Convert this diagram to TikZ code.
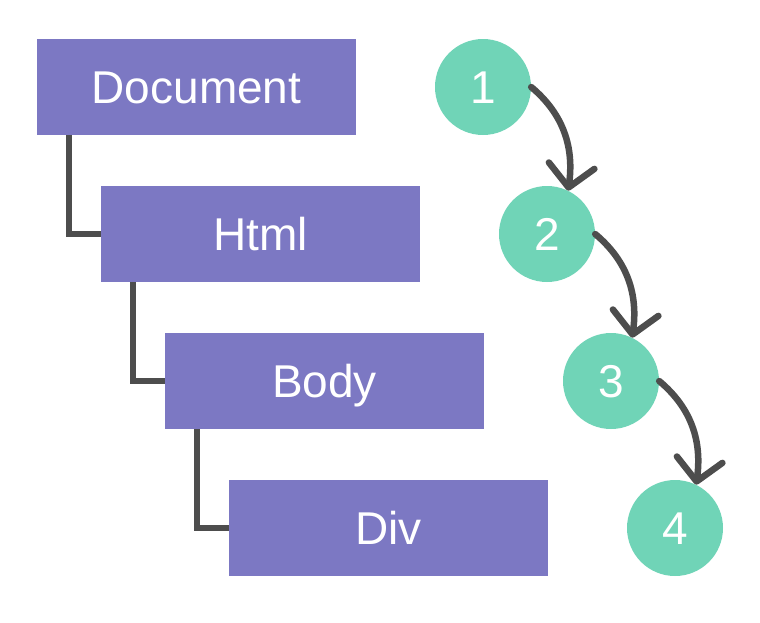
\documentclass[tikz,border=0pt]{standalone}
\usepackage{fontspec}
\setmainfont{Liberation Sans}
\usetikzlibrary{arrows.meta}
\definecolor{boxpurple}{HTML}{7C78C3}
\definecolor{stepgreen}{HTML}{70D4B7}
\definecolor{linegray}{HTML}{4D4D4D}
\begin{document}
\begin{tikzpicture}[x=1pt,y=1pt,
  label font/.style={font=\fontsize{46}{52}\selectfont, text=white,
    text height=33pt, text depth=0pt},
  treebox/.style={rectangle, fill=boxpurple, minimum width=319pt,
    minimum height=96pt, inner sep=0pt, label font},
  stepnode/.style={circle, fill=stepgreen, minimum size=96pt,
    inner sep=0pt, label font},
  treeline/.style={draw=linegray, line width=6pt},
  steparrow/.style={draw=linegray, line width=6.5pt, line cap=round,
    -{Straight Barb[length=22pt, width=46pt, line cap=round, line join=round]}}
]
\useasboundingbox (0,0) rectangle (760,-622);

% tree of elements
\node[treebox] (doc)  at (196.5,-87)  {Document};
\node[treebox] (html) at (260.5,-234) {Html};
\node[treebox] (body) at (324.5,-381) {Body};
\node[treebox] (div)  at (388.5,-528) {Div};

\draw[treeline] ([xshift=32.5pt]doc.south west)  |- (html.west);
\draw[treeline] ([xshift=32.5pt]html.south west) |- (body.west);
\draw[treeline] ([xshift=32.5pt]body.south west) |- (div.west);

% traversal order
\node[stepnode] (s1) at (483,-87)  {1};
\node[stepnode] (s2) at (547,-234) {2};
\node[stepnode] (s3) at (611,-381) {3};
\node[stepnode] (s4) at (675,-528) {4};

\draw[steparrow] (s1.east) to[out=-40, in=82] (s2.64);
\draw[steparrow] (s2.east) to[out=-40, in=82] (s3.64);
\draw[steparrow] (s3.east) to[out=-40, in=82] (s4.64);
\end{tikzpicture}
\end{document}
